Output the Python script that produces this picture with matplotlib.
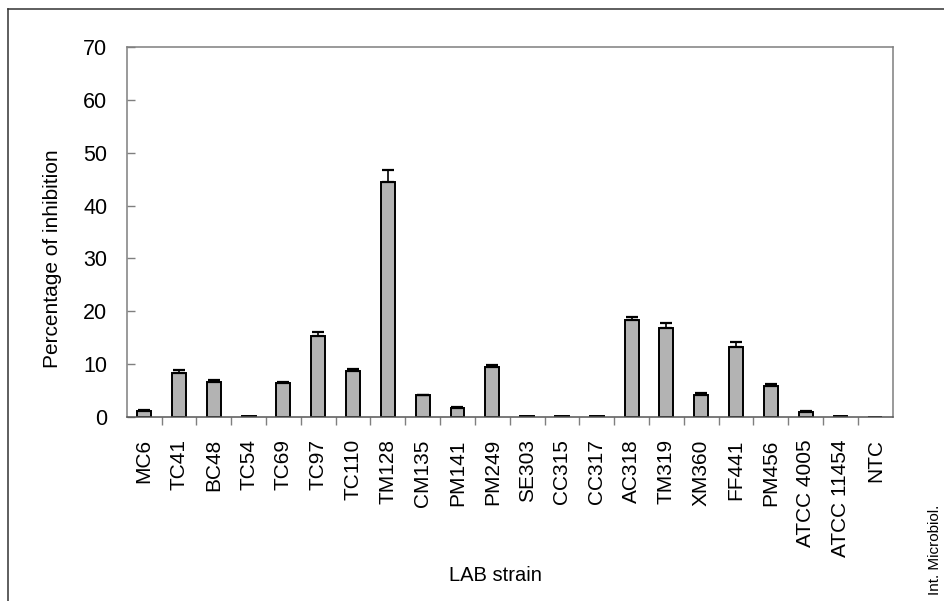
import numpy as np
import matplotlib
matplotlib.use("Agg")
import matplotlib.pyplot as plt
from matplotlib.lines import Line2D

plt.rcParams['font.family'] = ['Liberation Sans', 'DejaVu Sans']

# --- data ---
strains = ['MC6', 'TC41', 'BC48', 'TC54', 'TC69', 'TC97', 'TC110', 'TM128',
           'CM135', 'PM141', 'PM249', 'SE303', 'CC315', 'CC317', 'AC318',
           'TM319', 'XM360', 'FF441', 'PM456', 'ATCC 4005', 'ATCC 11454', 'NTC']
inhibition = [1.2, 8.3, 6.6, 0.1, 6.5, 15.4, 8.7, 44.5,
              4.1, 1.7, 9.5, 0.1, 0.1, 0.1, 18.3,
              16.9, 4.1, 13.2, 5.8, 1.0, 0.1, 0.0]
err_up = [0.2, 0.5, 0.4, 0.0, 0.1, 0.7, 0.3, 2.3,
          0.1, 0.1, 0.3, 0.0, 0.0, 0.0, 0.7,
          0.9, 0.4, 0.9, 0.4, 0.2, 0.0, 0.0]

x = np.arange(len(strains))
vals = np.array(inhibition)
errs = np.array(err_up)

fig = plt.figure(figsize=(9.44, 6.01), dpi=100)
ax = fig.add_axes([0.1342, 0.3062, 0.8115, 0.6156])

ax.bar(x, vals, width=0.4, color='#b3b3b3', edgecolor='black', linewidth=1.4, zorder=2)

# only upper error bars where there is one
m = errs > 0
ax.errorbar(x[m], vals[m], yerr=[np.zeros(m.sum()), errs[m]], fmt='none',
            ecolor='black', elinewidth=1.2, capsize=4.5, capthick=1.6, zorder=3)

ax.set_xlim(-0.5, len(strains) - 0.5)
ax.set_ylim(0, 70)
ax.set_yticks(np.arange(0, 71, 10))

ax.set_xticks(x)
ax.set_xticklabels(strains, rotation=90, fontsize=15)
ax.set_xticks(x[:-1] + 0.5, minor=True)
ax.tick_params(axis='x', which='major', length=0, pad=16)
ax.tick_params(axis='x', which='minor', length=6, width=1, color='#7f7f7f', direction='out')
ax.tick_params(axis='y', direction='in', length=6, width=1, color='#7f7f7f',
               labelsize=15.5, pad=14)

for s in ax.spines.values():
    s.set_color('#7f7f7f')
    s.set_linewidth(1.1)
ax.spines['bottom'].set_color('#555555')

ax.set_ylabel('Percentage of inhibition', fontsize=15)
ax.yaxis.set_label_coords(-0.0845, 0.427)
fig.text(0.525, 0.043, 'LAB strain', fontsize=14.5, ha='center', va='center')
fig.text(0.99, 0.01, 'Int. Microbiol.', fontsize=11, rotation=90, ha='center', va='bottom')

# outer frame (top and left edge)
fig.add_artist(Line2D([0.0085, 1.0], [0.985, 0.985], color='#333333', linewidth=1.1))
fig.add_artist(Line2D([0.0085, 0.0085], [0.0, 0.985], color='#333333', linewidth=1.1))

fig.savefig('out.png', dpi=100)
